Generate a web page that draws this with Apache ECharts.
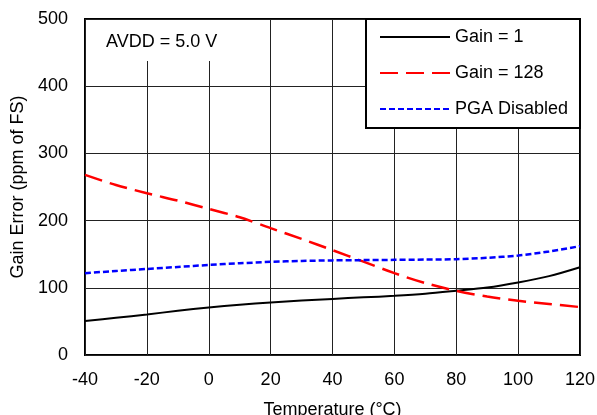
<!DOCTYPE html>
<html>
<head>
<meta charset="utf-8">
<script src="https://cdn.jsdelivr.net/npm/echarts@6/dist/echarts.min.js"></script>
<style>
html,body{margin:0;padding:0;background:#fff;}
#chart{width:597px;height:415px;}
</style>
</head>
<body>
<div id="chart"></div>
<script>
var temperatures = [-40,-30,-20,-10,0,10,20,30,40,50,60,70,80,90,100,110,120];
var gain1 = [50.5,55.4,60.3,65.8,70.7,74.7,78.2,81.2,83.5,85.8,88,91,95.5,100.4,108,117.4,130.7];
var gain128 = [268,253,240.7,229.7,217.4,205,188.7,172.8,156,139,121.8,107,95.5,87,80.7,76,71.3];
var pgaDisabled = [121.8,125,128,131,134,136.5,138.6,140,140.8,141.2,141.6,142,142.6,144.6,148,154,162];
var seriesNames = ['Gain = 1','Gain = 128','PGA Disabled'];
var xTickLabels = ['-40','-20','0','20','40','60','80','100','120'];
var yTickLabels = ['0','100','200','300','400','500'];
var annotationText = 'AVDD = 5.0 V';

function pairs(xs, ys){ return xs.map(function(x,i){ return [x, ys[i]]; }); }

var FONT = 'Liberation Sans, Arial, sans-serif';
var chart = echarts.init(document.getElementById('chart'), null, {renderer:'canvas'});
chart.setOption({
  animation:false,
  backgroundColor:'#fff',
  textStyle:{fontFamily:FONT},
  grid:{left:85,right:17,top:19,bottom:60,show:true,borderColor:'#000',borderWidth:2,backgroundColor:'#fff',
    containLabel:false,outerBoundsMode:'none'},
  xAxis:{
    type:'value',min:-40,max:120,interval:20,
    name:'Temperature (°C)',nameLocation:'middle',nameGap:46,
    nameTextStyle:{fontSize:18,color:'#000',fontFamily:FONT},
    axisLine:{show:false},axisTick:{show:false},
    axisLabel:{fontSize:18,color:'#000',margin:16,fontFamily:FONT,
      formatter:function(v){ var i=xTickLabels.indexOf(String(v)); return i>=0?xTickLabels[i]:''; }},
    splitLine:{show:true,lineStyle:{color:'#222',width:1}}
  },
  yAxis:{
    type:'value',min:0,max:500,interval:100,
    name:'Gain Error (ppm of FS)',nameLocation:'middle',nameGap:50,
    nameTextStyle:{fontSize:18,color:'#000',fontFamily:FONT},
    axisLine:{show:false},axisTick:{show:false},
    axisLabel:{fontSize:18,color:'#000',margin:17,fontFamily:FONT,
      formatter:function(v){ var i=yTickLabels.indexOf(String(v)); return i>=0?yTickLabels[i]:''; }},
    splitLine:{show:true,lineStyle:{color:'#222',width:1}}
  },
  legend:{
    orient:'vertical',left:374,top:23,
    itemWidth:70,itemHeight:18,itemGap:18,
    z:10,
    itemStyle:{opacity:0},
    textStyle:{fontSize:18,color:'#000',fontFamily:FONT,lineHeight:18},
    data:seriesNames
  },
  graphic:[
    {type:'rect',z:5,shape:{x:86,y:20,width:160,height:41},style:{fill:'#fff'}},
    {type:'text',z:6,left:106,top:33,style:{text:annotationText,fontSize:18,fill:'#000',fontFamily:FONT}},
    {type:'rect',z:5,shape:{x:366,y:19,width:214,height:109},style:{fill:'#fff',stroke:'#000',lineWidth:2}}
  ],
  series:[
    {name:seriesNames[0],type:'line',data:pairs(temperatures,gain1),smooth:0.3,symbol:'none',
      lineStyle:{color:'#000',width:2},itemStyle:{color:'#000'}},
    {name:seriesNames[1],type:'line',data:pairs(temperatures,gain128),smooth:0.3,symbol:'none',
      lineStyle:{color:'#ff0000',width:2.5,type:[18,8]},itemStyle:{color:'#ff0000'}},
    {name:seriesNames[2],type:'line',data:pairs(temperatures,pgaDisabled),smooth:0.3,symbol:'none',
      lineStyle:{color:'#0000ff',width:2.5,type:[6,3]},itemStyle:{color:'#0000ff'}}
  ]
});
</script>
</body>
</html>
